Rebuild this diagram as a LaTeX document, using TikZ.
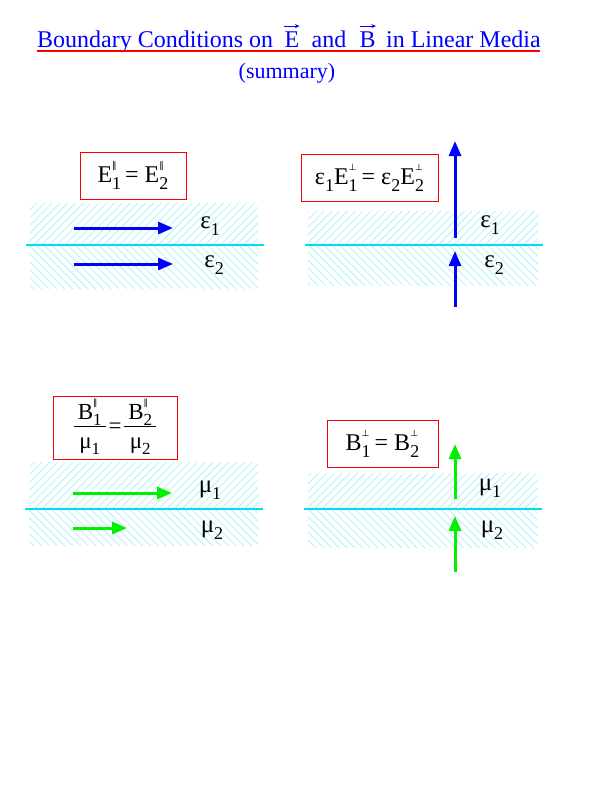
\documentclass[tikz,border=0pt]{standalone}
\usepackage{fontspec}
\setmainfont{Liberation Serif}
\newfontfamily\symf{DejaVu Sans}
\usetikzlibrary{patterns.meta,arrows.meta,calc}
\definecolor{ifc}{RGB}{0,220,240}
\definecolor{hatchc}{RGB}{150,242,252}
\definecolor{tblue}{RGB}{0,0,255}
\definecolor{agreen}{RGB}{0,240,0}
\newcommand\subsup[2]{\rlap{\raisebox{0.6em}{\fontsize{9}{9}\selectfont #2}}\raisebox{-0.28em}{\fontsize{18}{18}\selectfont #1}}
\newcommand\fsubsup[2]{\rlap{\raisebox{0.62em}{\fontsize{8.5}{8.5}\selectfont #2}}\raisebox{-0.26em}{\fontsize{17}{17}\selectfont #1}}
\newcommand\sbs[1]{\raisebox{-0.28em}{\fontsize{18}{18}\selectfont #1}}
\newcommand\fsbs[1]{\raisebox{-0.26em}{\fontsize{17}{17}\selectfont #1}}
\newcommand\parsym{{\symf ‖}}
\newcommand\persym{{\symf ⊥}}
\newcommand\fracx[2]{\begin{tabular}{@{\,}c@{\,}}\raisebox{0pt}{#1}\\[-1pt]\hline\rule{0pt}{0.95em}#2\end{tabular}}
\begin{document}
\begin{tikzpicture}[x=1pt,y=-1pt,
  ttl/.style={text=tblue,font=\fontsize{24}{28}\selectfont,anchor=base west,inner sep=0pt},
  eqbox/.style={draw=red,line width=0.9pt,inner sep=0pt,font=\fontsize{24}{28}\selectfont},
  medlabel/.style={inner sep=0pt,font=\fontsize{25}{28}\selectfont},
  hatchup/.style={pattern={Lines[angle=45,distance=5.5pt,line width=0.6pt]},pattern color=hatchc},
  hatchdn/.style={pattern={Lines[angle=-45,distance=5.5pt,line width=0.6pt]},pattern color=hatchc},
  iface/.style={draw=ifc,line width=2.2pt},
  vecarrow/.style={draw=tblue,line width=0.7pt,-{Stealth[length=4.5pt,width=4pt]}},
  barrow/.style={draw=tblue,line width=3pt,-{Triangle[length=15pt,width=12pt]}},
  garrow/.style={draw=agreen,line width=3pt,-{Triangle[length=15pt,width=12pt]}}]
\useasboundingbox (0,0) rectangle (612,792);
\fill[white] (0,0) rectangle (612,792);
% title
\node[ttl] (t1) at (37,48) {Boundary Conditions on};
\node[ttl] (tE) at ($(t1.base east)+(11,0)$) {E};
\node[ttl] (t2) at ($(tE.base east)+(12,0)$) {and};
\node[ttl] (tB) at ($(t2.base east)+(13,0)$) {B};
\node[ttl] (t3) at ($(tB.base east)+(10,0)$) {in Linear Media};
\draw[vecarrow] ($(tE.north west)+(0,-6)$) -- ($(tE.north east)+(0,-6)$);
\draw[vecarrow] ($(tB.north west)+(0,-6)$) -- ($(tB.north east)+(0,-6)$);
\coordinate (ul1) at (37,51);
\coordinate (ul2) at (540,51);
\draw[red,line width=2pt] (ul1) -- (ul2);
\node[text=tblue,font=\fontsize{22}{24}\selectfont,inner sep=0pt] (sum) at (287,73) {(summary)};

% ---------- panel 1 ----------
\fill[hatchup] (30,203) rectangle (258,245);
\fill[hatchdn] (30,245) rectangle (258,288);
\coordinate (i1a) at (26,245); \coordinate (i1b) at (264,245);
\draw[iface] (i1a) -- (i1b);
\node[eqbox,minimum width=106pt,minimum height=47pt] (box1) at (133,175.5)
  {E\subsup{1}{\parsym}\,= E\subsup{2}{\parsym}};
\coordinate (p1a) at (74,228); \coordinate (p1b) at (173,228);
\coordinate (p1c) at (74,264); \coordinate (p1d) at (173,264);
\draw[barrow] (p1a) -- (p1b);
\draw[barrow] (p1c) -- (p1d);
\node[medlabel] (e11) at (210,226) {ε\sbs{1}};
\node[medlabel] (e12) at (214,265) {ε\sbs{2}};

% ---------- panel 2 ----------
\fill[hatchup] (308,211) rectangle (538,245);
\fill[hatchdn] (308,245) rectangle (538,285);
\coordinate (i2a) at (305,245); \coordinate (i2b) at (543,245);
\draw[iface] (i2a) -- (i2b);
\node[eqbox,minimum width=137pt,minimum height=47pt] (box2) at (369.5,177.5)
  {ε\sbs{1}E\subsup{1}{\persym}\,= ε\sbs{2}E\subsup{2}{\persym}};
\coordinate (p2a) at (455,238); \coordinate (p2b) at (455,141);
\coordinate (p2c) at (455,307); \coordinate (p2d) at (455,251);
\draw[barrow] (p2a) -- (p2b);
\draw[barrow] (p2c) -- (p2d);
\node[medlabel] (e21) at (490,225) {ε\sbs{1}};
\node[medlabel] (e22) at (494,265) {ε\sbs{2}};

% ---------- panel 3 ----------
\fill[hatchup] (29,462) rectangle (258,509);
\fill[hatchdn] (29,509) rectangle (258,545);
\coordinate (i3a) at (25,509); \coordinate (i3b) at (263,509);
\draw[iface] (i3a) -- (i3b);
\node[eqbox,minimum width=124pt,minimum height=63pt,font=\fontsize{23}{26}\selectfont] (box3) at (115,427.5)
  {\fracx{B\fsubsup{1}{\parsym}}{μ\fsbs{1}}\hspace{3pt}=\hspace{3pt}\fracx{B\fsubsup{2}{\parsym}}{μ\fsbs{2}}};
\coordinate (p3a) at (73,493); \coordinate (p3b) at (172,493);
\coordinate (p3c) at (73,528); \coordinate (p3d) at (127,528);
\draw[garrow] (p3a) -- (p3b);
\draw[garrow] (p3c) -- (p3d);
\node[medlabel] (m31) at (210,490) {μ\sbs{1}};
\node[medlabel] (m32) at (212,530) {μ\sbs{2}};

% ---------- panel 4 ----------
\fill[hatchup] (308,473) rectangle (537,509);
\fill[hatchdn] (308,509) rectangle (537,547);
\coordinate (i4a) at (304,509); \coordinate (i4b) at (542,509);
\draw[iface] (i4a) -- (i4b);
\node[eqbox,minimum width=111pt,minimum height=47pt] (box4) at (382.5,443.5)
  {B\subsup{1}{\persym}\,= B\subsup{2}{\persym}};
\coordinate (p4a) at (455,499); \coordinate (p4b) at (455,444);
\coordinate (p4c) at (455,572); \coordinate (p4d) at (455,516);
\draw[garrow] (p4a) -- (p4b);
\draw[garrow] (p4c) -- (p4d);
\node[medlabel] (m41) at (490,488) {μ\sbs{1}};
\node[medlabel] (m42) at (492,530) {μ\sbs{2}};
\end{tikzpicture}
\end{document}
